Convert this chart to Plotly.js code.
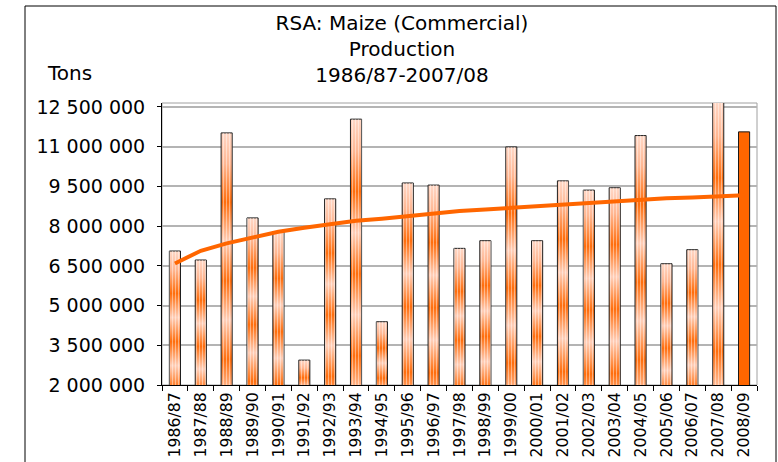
<!DOCTYPE html>
<html>
<head>
<meta charset="utf-8">
<script src="https://cdn.plot.ly/plotly-3.0.1.min.js"></script>
<style>
  html, body { margin: 0; padding: 0; background: #ffffff; }
  #chart { width: 778px; height: 462px; }
</style>
</head>
<body>
<div id="chart"></div>
<script>
// ---- Data ----
const categories = ["1986/87","1987/88","1988/89","1989/90","1990/91","1991/92","1992/93",
  "1993/94","1994/95","1995/96","1996/97","1997/98","1998/99","1999/00","2000/01","2001/02",
  "2002/03","2003/04","2004/05","2005/06","2006/07","2007/08","2008/09"];

// Commercial maize production 1986/87-2007/08 (tons)
const production = [7060000, 6720000, 11520000, 8310000, 7790000, 2940000, 9030000,
  12040000, 4390000, 9630000, 9550000, 7160000, 7450000, 10990000, 7450000, 9710000,
  9360000, 9450000, 11420000, 6580000, 7110000, 12700000, null];

// 2008/09 (highlighted, solid bar)
const estimate = [null, null, null, null, null, null, null, null, null, null, null, null,
  null, null, null, null, null, null, null, null, null, null, 11560000];

// Logarithmic trend line (tons)
const trend = [6590000, 7070000, 7350000, 7570000, 7790000, 7940000, 8060000, 8200000,
  8280000, 8380000, 8480000, 8570000, 8630000, 8690000, 8770000, 8820000, 8880000,
  8920000, 8980000, 9050000, 9080000, 9130000, 9170000];

const yTickStart = 2000000;
const yTickStep = 1500000;

// ---- Chart ----
const FONT = "DejaVu Sans, Verdana, sans-serif";
const ORANGE = "#ff6600";

const data = [
  {
    type: "bar", x: categories, y: production, name: "Production",
    marker: { color: "#ff9a66", line: { color: "#1a1a1a", width: 1 } },
    hoverinfo: "skip"
  },
  {
    type: "bar", x: categories, y: estimate, name: "2008/09",
    marker: { color: ORANGE, line: { color: "#1a1a1a", width: 1 } },
    hoverinfo: "skip"
  },
  {
    type: "bar", x: categories, y: production, name: "texture", showlegend: false,
    marker: {
      color: "rgba(0,0,0,0)", line: { width: 0 },
      pattern: { shape: "|", fgcolor: "#ffffff", fgopacity: 0.45, bgcolor: "rgba(0,0,0,0)", size: 3, solidity: 0.4 }
    },
    hoverinfo: "skip"
  },
  {
    type: "scatter", mode: "lines", x: categories, y: trend, name: "Trend",
    line: { color: ORANGE, width: 4 }, hoverinfo: "skip"
  }
];

const L = 162, R = 21, T = 103, B = 77, W = 778, H = 462;
const pw = W - L - R, ph = H - T - B;
const px = v => (v - L) / pw;
const py = v => (H - B - v) / ph;

const layout = {
  width: W, height: H,
  margin: { l: L, r: R, t: T, b: B, pad: 0 },
  paper_bgcolor: "#ffffff", plot_bgcolor: "#ffffff",
  font: { family: FONT, color: "#000000" },
  separators: ". ",
  showlegend: false,
  barmode: "overlay",
  bargap: 0.57,
  title: {
    text: "RSA: Maize (Commercial)<br>Production<br>1986/87-2007/08",
    font: { family: FONT, size: 20, color: "#000000" },
    x: 402 / W, xref: "container", xanchor: "center",
    y: 1 - 30 / H, yref: "container", yanchor: "top"
  },
  xaxis: {
    type: "category", range: [-0.5, categories.length - 0.5],
    showline: true, linecolor: "#000000", linewidth: 1,
    ticks: "outside", tickson: "boundaries", ticklen: 5, tickcolor: "#000000", tickwidth: 1,
    tickangle: -90, tickfont: { family: FONT, size: 15.7, color: "#000000" },
    showgrid: false, zeroline: false, fixedrange: true
  },
  yaxis: {
    range: [2000000, 12650000], tick0: yTickStart, dtick: yTickStep, tickformat: ",d",
    showline: true, linecolor: "#000000", linewidth: 1,
    ticks: "outside", ticklen: 4, tickcolor: "#000000",
    ticklabelstandoff: 8,
    tickfont: { family: FONT, size: 19, color: "#000000" },
    showgrid: true, gridcolor: "#b4b4b4", gridwidth: 2,
    zeroline: false, fixedrange: true
  },
  annotations: [
    {
      text: "Tons", xref: "paper", yref: "paper", x: px(69), y: py(73),
      xanchor: "center", yanchor: "middle", showarrow: false,
      font: { family: FONT, size: 20, color: "#000000" }
    }
  ],
  shapes: [
    { type: "rect", xref: "paper", yref: "paper", x0: 0, x1: 1, y0: 0, y1: 1,
      line: { color: "#a0a0a0", width: 1 }, layer: "below" },
    { type: "rect", xref: "paper", yref: "paper", x0: px(25), x1: px(776), y0: py(475), y1: py(6),
      line: { color: "#000000", width: 1 }, layer: "above" }
  ]
};

Plotly.newPlot("chart", data, layout, { staticPlot: true, displayModeBar: false }).then(gd => {
  const ns = "http://www.w3.org/2000/svg";
  const svg = gd.querySelector(".main-svg");
  const defs = document.createElementNS(ns, "defs");
  const lg = document.createElementNS(ns, "linearGradient");
  lg.setAttribute("id", "maizeBarGrad");
  lg.setAttribute("x1", "0"); lg.setAttribute("y1", "0");
  lg.setAttribute("x2", "0"); lg.setAttribute("y2", "1");
  const stops = [
    [0.0, "#ffd6c4"], [0.10, "#ffb48e"], [0.227, "#ff6600"], [0.356, "#ffcdb6"],
    [0.485, "#ff6600"], [0.613, "#ffcdb6"], [0.742, "#ff6600"], [0.871, "#ffcdb6"], [1.0, "#ff6a0a"]
  ];
  stops.forEach(([o, c]) => {
    const s = document.createElementNS(ns, "stop");
    s.setAttribute("offset", o);
    s.setAttribute("stop-color", c);
    lg.appendChild(s);
  });
  defs.appendChild(lg);
  svg.insertBefore(defs, svg.firstChild);
  const barTraces = gd.querySelectorAll(".barlayer .trace");
  if (barTraces.length) {
    barTraces[0].querySelectorAll("path").forEach(p => { p.style.fill = "url(#maizeBarGrad)"; });
  }
});
</script>
</body>
</html>
